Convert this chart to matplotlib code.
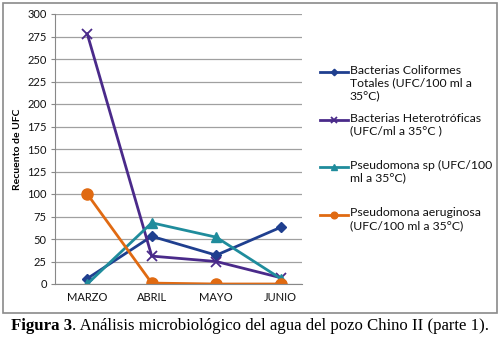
import matplotlib
matplotlib.use("Agg")
import matplotlib.pyplot as plt
from matplotlib.patches import Rectangle
from matplotlib.lines import Line2D

months = ["MARZO", "ABRIL", "MAYO", "JUNIO"]
coliformes = [6, 53, 32, 63]
heterotroficas = [278, 31, 25, 7]
pseudomona_sp = [0, 68, 52, 6]
aeruginosa = [100, 1, 0, 0]
labels = [
    "Bacterias Coliformes\nTotales (UFC/100 ml a\n35°C)",
    "Bacterias Heterotróficas\n(UFC/ml a 35°C )",
    "Pseudomona sp (UFC/100\nml a 35°C)",
    "Pseudomona aeruginosa\n(UFC/100 ml a 35°C)",
]
yticks = list(range(0, 301, 25))

plt.rcParams["font.family"] = ["Lato", "DejaVu Sans"]

W, H = 500, 338
fig = plt.figure(figsize=(5, 3.38), dpi=100)
fig.patch.set_facecolor("white")
fig.add_artist(Rectangle((3/W, 1 - 313/H), 494/W, (313-3)/H, transform=fig.transFigure,
                         fill=False, edgecolor="#8a8a8a", linewidth=1.2))

ax = fig.add_axes([55/W, 1 - 284/H, (302-55)/W, (284-14)/H])
x = range(len(months))
c1, c2, c3, c4 = "#1f3f8f", "#4a2a8a", "#1f8c9c", "#e06a12"
lines = []
lines += ax.plot(x, coliformes, color=c1, lw=2, marker="D", ms=5.5, label=labels[0])
lines += ax.plot(x, heterotroficas, color=c2, lw=2, marker="x", ms=7, mew=1.3, label=labels[1])
lines += ax.plot(x, pseudomona_sp, color=c3, lw=2, marker="^", ms=7, label=labels[2])
lines += ax.plot(x, aeruginosa, color=c4, lw=2, marker="o", ms=8, label=labels[3])

ax.set_xlim(-0.5, 3.33)
ax.set_ylim(0, 300)
ax.set_yticks(yticks)
ax.set_xticks(list(x))
ax.set_xticklabels(months)
ax.tick_params(axis="both", labelsize=8, length=3, color="#888888", pad=3, labelcolor="#111111")
ax.tick_params(axis="x", length=0, pad=6)
ax.grid(axis="y", color="#a0a0a0", lw=0.9)
ax.set_axisbelow(True)
for s in ["top", "right"]:
    ax.spines[s].set_visible(False)
ax.spines["left"].set_color("#888888")
ax.spines["bottom"].set_color("#888888")
ax.set_ylabel("Recuento de UFC", fontsize=7.5, fontweight="bold", labelpad=4)

# legend built manually: handle aligned with first text line (as in the original)
first_line_y = [72, 120, 167, 215]
for h, lab, yy in zip(lines, labels, first_line_y):
    fy = 1 - yy / H
    fig.add_artist(Line2D([320/W, 348/W], [fy, fy], transform=fig.transFigure,
                          color=h.get_color(), lw=2))
    fig.add_artist(Line2D([334/W], [fy], transform=fig.transFigure, color=h.get_color(),
                          marker=h.get_marker(), ms=h.get_markersize() * 0.6,
                          mew=h.get_markeredgewidth(), lw=0))
    fig.text(350/W, 1 - (yy - 7.5) / H, lab, fontsize=8.8, va="top", ha="left",
             linespacing=1.2, color="#111111")

fig.canvas.draw()
r = fig.canvas.get_renderer()
fs = 12.1
t1 = fig.text(0, 0, "Figura 3", fontsize=fs, fontweight="bold", family="Liberation Serif", va="center")
t2 = fig.text(0, 0, ". Análisis microbiológico del agua del pozo Chino II (parte 1).",
              fontsize=fs, family="Liberation Serif", va="center")
w1 = t1.get_window_extent(r).width
w2 = t2.get_window_extent(r).width
Wp = fig.bbox.width
x0 = (Wp - w1 - w2) / 2
yc = 1 - 326/H
t1.set_position((x0 / Wp, yc))
t2.set_position(((x0 + w1) / Wp, yc))

fig.savefig("out.png", dpi=100, facecolor="white")
